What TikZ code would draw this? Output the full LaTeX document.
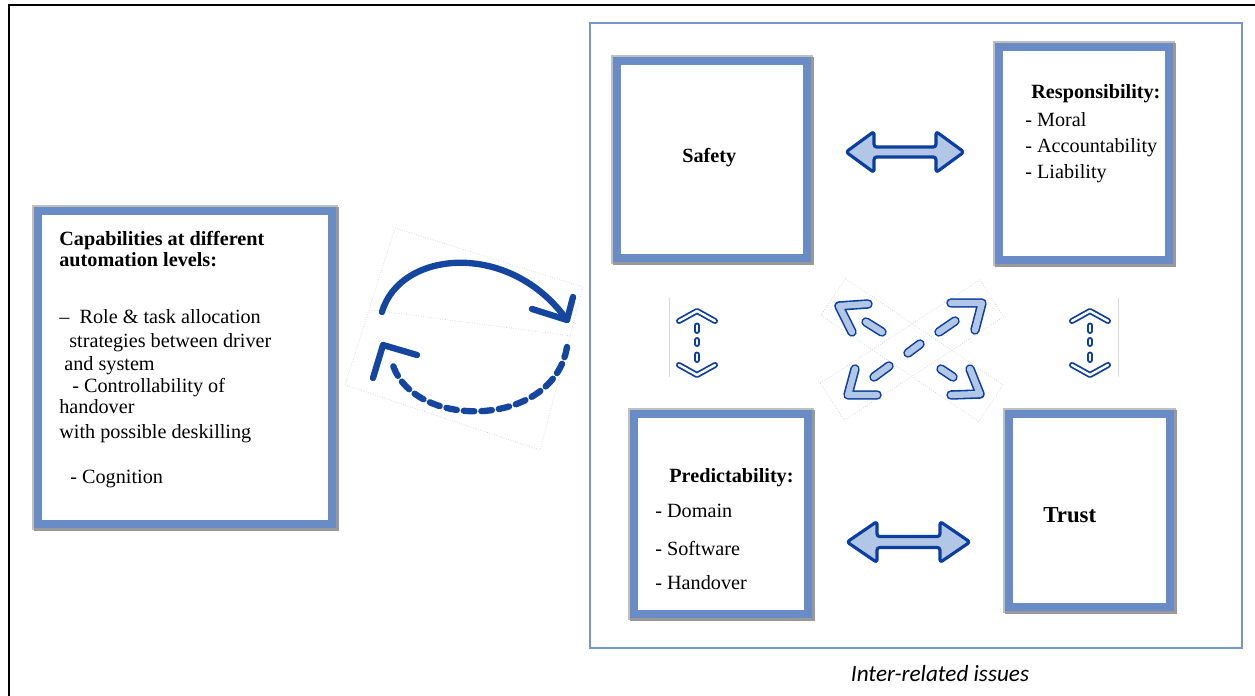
\documentclass[tikz,border=0pt]{standalone}
\usepackage{fontspec}
\usetikzlibrary{calc}
\setmainfont{Liberation Serif}
\newfontfamily\capfont{Carlito}
\definecolor{boxblue}{RGB}{106,140,198}
\definecolor{darkarr}{RGB}{12,62,160}
\definecolor{lightarr}{RGB}{178,198,230}
\definecolor{panelblue}{RGB}{120,150,205}
\definecolor{chalk}{RGB}{20,70,160}
\begin{document}
\begin{tikzpicture}[x=0.02cm,y=-0.02cm,
  frame/.style={draw=boxblue, line width=5pt, fill=white, inner sep=0,
    preaction={draw=black!25, line width=7pt},
    preaction={draw=black!40, line width=6pt, transform canvas={shift={(0.8pt,-0.8pt)}}}},
  txt/.style={inner sep=0, anchor=base west, font=\fontsize{11.5}{13}\selectfont},
  btxt/.style={txt, font=\bfseries\fontsize{11.5}{13}\selectfont},
  blockarr/.style={fill=lightarr, draw=darkarr, line width=1.8pt, line join=round, rounded corners=1.5pt},
  bigchev/.style={draw=darkarr, line width=0.9pt, double=lightarr, double distance=3.6pt, line cap=round, line join=round},
  smallchev/.style={draw=darkarr, line width=1pt, double=white, double distance=1.4pt, line cap=round, line join=round},
  faint/.style={draw=black!18, densely dotted, line width=0.4pt},
  chalkline/.style={draw=chalk, line width=3.6pt, line cap=round, line join=round}
]
\useasboundingbox (0,0) rectangle (1255,696);
\fill[white] (0,0) rectangle (1255,696);
% outer frame
\draw[black, line width=1.2pt] (9,696) -- (9,5) -- (1255,5);
% right panel
\draw[panelblue, line width=0.8pt] (590,23) rectangle (1242,648);
\node[inner sep=0, anchor=base, font=\capfont\itshape\fontsize{13.2}{15}\selectfont] (cap) at (940,681) {Inter-related issues};

% boxes
\node[frame, minimum width=5.88cm, minimum height=6.26cm] (capab) at (185,367.5) {};
\node[frame, minimum width=3.8cm, minimum height=3.94cm] (safety) at (712,159.5) {};
\node[frame, minimum width=3.4cm, minimum height=4.26cm] (resp) at (1084,153.5) {};
\node[frame, minimum width=3.48cm, minimum height=4cm] (pred) at (721,514) {};
\node[frame, minimum width=3.22cm, minimum height=3.86cm] (trust) at (1089.5,510.5) {};

% capabilities text
\node[btxt] (c1) at (59,245) {Capabilities at different};
\node[btxt] (c2) at (59,266) {automation levels:};
\node[txt] (c3) at (59,323) {–\ \ Role \& task allocation};
\node[txt] (c4) at (69,347) {strategies between driver};
\node[txt] (c5) at (64,370) {and system};
\node[txt] (c6) at (72,392) {- Controllability of};
\node[txt] (c7) at (59,413) {handover};
\node[txt] (c8) at (59,438) {with possible deskilling};
\node[txt] (c9) at (70,483) {- Cognition};

% safety
\node[btxt] (s1) at (682,163) {Safety};
% responsibility
\node[btxt] (r1) at (1031,99) {Responsibility:};
\node[txt] (r2) at (1025,127) {- Moral};
\node[txt] (r3) at (1025,153) {- Accountability};
\node[txt] (r4) at (1025,178) {- Liability};
% predictability
\node[btxt] (p1) at (669,482) {Predictability:};
\node[txt] (p2) at (655,517) {- Domain};
\node[txt] (p3) at (655,555) {- Software};
\node[txt] (p4) at (655,589) {- Handover};
% trust
\node[txt, font=\bfseries\fontsize{13}{15}\selectfont] (t1) at (1043,522) {Trust};

% horizontal block double arrows
\coordinate (ha) at (905,152);
\coordinate (hb) at (908.5,542);
\draw[blockarr] ($(ha)+(-59,0)$) -- ++(28,-20.5) -- ++(0,15.5) -- ++(62,0) -- ++(0,-15.5) -- ++(28,20.5)
  -- ++(-28,20.5) -- ++(0,-15.5) -- ++(-62,0) -- ++(0,15.5) -- cycle;
\draw[blockarr] ($(hb)+(-61.5,0)$) -- ++(30,-20.5) -- ++(0,15) -- ++(63,0) -- ++(0,-15) -- ++(30,20.5)
  -- ++(-30,20.5) -- ++(0,-15) -- ++(-63,0) -- ++(0,15) -- cycle;

% vertical small dashed arrows
\draw[black!15, line width=0.5pt] (669,298) -- (669,377);
\draw[black!15, line width=0.5pt] (1118,298) -- (1118,377);
\foreach \cx in {697,1090}{
  \draw[smallchev] (\cx-18,321) -- (\cx,311) -- (\cx+18,321);
  \draw[smallchev] (\cx-18,365) -- (\cx,375) -- (\cx+18,365);
  \draw[smallchev] (\cx,325.5) -- (\cx,331);
  \draw[smallchev] (\cx,340) -- (\cx,344);
  \draw[smallchev] (\cx,354.5) -- (\cx,360);
}

% X arrows faint frames
\draw[faint, rotate around={33:(912,350)}] (817,328) rectangle (1007,372);
\draw[faint, rotate around={-34:(912,350)}] (817,328) rectangle (1007,372);
% X arrows
\draw[bigchev] (868,304) -- (839,306) -- (852,332);
\draw[bigchev] (866,322) -- (882,332);
\draw[bigchev] (941,369) -- (953,377);
\draw[bigchev] (951,395) -- (980,394) -- (970,369);
\draw[bigchev] (951,303) -- (982,303) -- (975,330);
\draw[bigchev] (939,332) -- (955,321);
\draw[bigchev] (908,353) -- (920,344);
\draw[bigchev] (874,377) -- (889,366);
\draw[bigchev] (877,395) -- (848,395) -- (855,369);

% circular arrows
\draw[faint] (395,228) -- (583,287) -- (540,450) -- (345,385) -- cycle;
\draw[faint] (372,310) -- (572,336);
\draw[chalkline] (382,312) .. controls (400,250) and (510,240) .. (567,320);
\draw[chalkline] (532,309) -- (567,320) -- (573,297);
\draw[chalkline, dash pattern=on 6pt off 4pt] (567,347) .. controls (553,430) and (410,430) .. (392,362);
\draw[chalkline] (417,355) -- (383,345) -- (373,378);
\end{tikzpicture}
\end{document}
